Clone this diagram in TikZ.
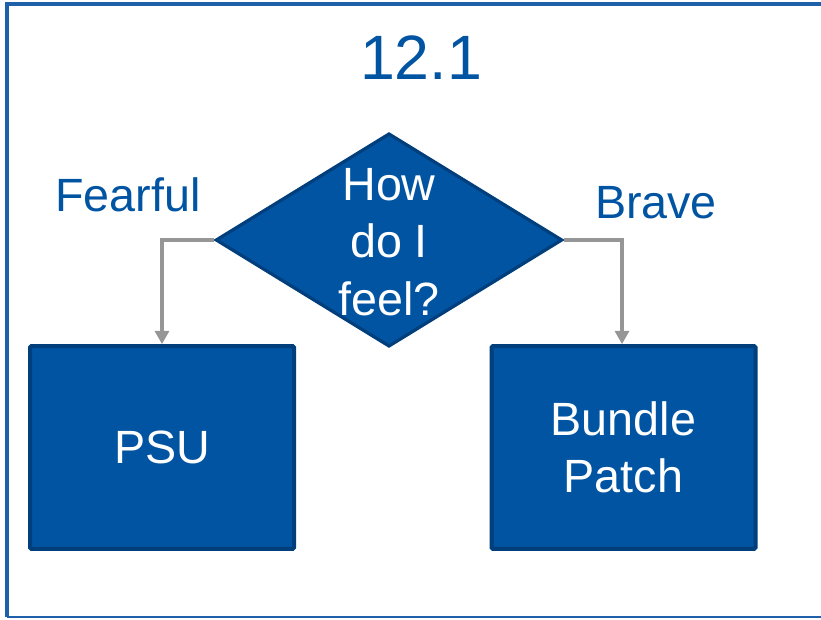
\documentclass[tikz,border=0pt]{standalone}
\usepackage{fontspec}
\setmainfont{Liberation Sans}
\usepackage{tikz}
\usetikzlibrary{calc}
\usetikzlibrary{arrows.meta}
\usetikzlibrary{positioning}
\usetikzlibrary{shapes.geometric}
\definecolor{slideblue}{RGB}{0, 84, 162}
\definecolor{edgeblue}{RGB}{0, 62, 124}
\definecolor{frameblue}{RGB}{30, 96, 170}
\definecolor{flowgray}{RGB}{150, 150, 150}

\tikzset{
    decision/.style={diamond, fill=slideblue, draw=edgeblue, line width=2.4pt,
        inner sep=0pt, minimum width=260pt, minimum height=160pt},
    action/.style={rectangle, fill=slideblue, draw=edgeblue, line width=3pt,
        rounded corners=1pt, minimum width=198pt, minimum height=152pt,
        text=white, align=center, font=\fontsize{35}{43}\selectfont},
    inside/.style={text=white, align=center, font=\fontsize{35}{43}\selectfont},
    answer/.style={text=slideblue, font=\fontsize{35}{43}\selectfont},
    flow/.style={draw=flowgray, line width=2.6pt, -{Triangle[length=10pt, width=10.5pt]}}
}

\begin{document}
\begin{tikzpicture}[x=0.75pt, y=0.75pt]
        \useasboundingbox (0,0) rectangle (821,619);
        % frame round the slide
        \draw[frameblue, line width=2.8pt] (821,615) -- (7,615) -- (7,2);
        \draw[frameblue, line width=1.5pt] (7,2) -- (821,2);

        \node[text=slideblue, font=\fontsize{47}{56}\selectfont] (title) at (421,561) {12.1};

        \node[decision] (ask) at (389,379) {};
        \node[inside]   (asktext) at (389,377) {How\\do I\\feel?};

        \node[answer] (fearful) at (128,424) {Fearful};
        \node[answer] (brave)   at (656,416) {Brave};

        \node[action] (psu)    at (162,171.5)   {PSU};
        \node[action] (bundle) at (623.5,171.5) {Bundle\\Patch};

        \draw[flow] (ask.west) -| (psu.north);
        \draw[flow] (ask.east) -| ($(bundle.north)+(-1.5,0)$);
\end{tikzpicture}
\end{document}
